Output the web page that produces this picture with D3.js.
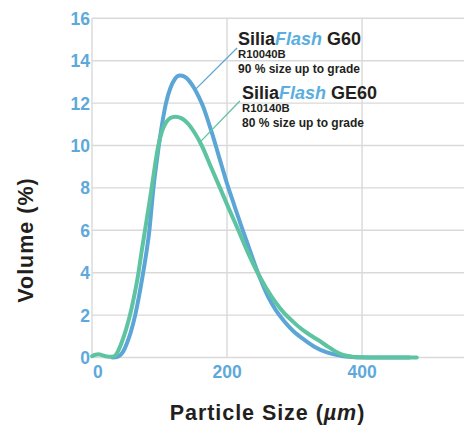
<!DOCTYPE html>
<html>
<head>
<meta charset="utf-8">
<script src="https://cdn.jsdelivr.net/npm/d3@7"></script>
<style>
  html, body { margin: 0; padding: 0; background: #ffffff; }
  svg text { font-family: "Liberation Sans", Arial, sans-serif; font-weight: bold; }
</style>
</head>
<body>
<div id="chart"></div>
<script>
// particle size (µm) / volume (%)
const g60Size = [30, 37, 42, 47, 52, 57, 64, 70, 76, 81, 85, 88, 91, 95, 99, 104, 109.6, 116, 123, 130, 137, 144, 151, 158, 165, 172, 179, 186, 193, 200, 210, 220, 230, 240, 250, 260, 272, 285, 298, 315, 330, 348, 365, 380, 400, 430, 470];
const g60Volume = [0, 0.02, 0.11, 0.33, 0.7, 1.15, 2.0, 2.95, 4.05, 5.05, 6.0, 7.0, 8.0, 9.05, 10.0, 11.05, 12.0, 12.7, 13.15, 13.3, 13.25, 13.05, 12.72, 12.3, 11.8, 11.15, 10.45, 9.7, 8.95, 8.2, 7.25, 6.3, 5.4, 4.5, 3.65, 2.92, 2.25, 1.7, 1.25, 0.82, 0.5, 0.24, 0.1, 0.03, 0, 0, 0];

const ge60Size = [0, 5, 10, 15, 20, 25, 30, 34, 39, 45, 50, 56.3, 62, 68.6, 73.5, 78.5, 83.5, 88.4, 93, 98.3, 104, 110, 116, 123, 133, 143, 152, 162.5, 176, 189.6, 203, 216.8, 230, 244, 258, 272, 285, 298, 312, 326, 340, 350, 360, 372, 385, 400, 420, 450, 481];
const ge60Volume = [0.06, 0.13, 0.15, 0.11, 0.06, 0.04, 0.04, 0.08, 0.33, 0.8, 1.28, 2.0, 2.82, 3.95, 5.0, 6.0, 7.0, 8.0, 9.0, 10.0, 10.7, 11.1, 11.3, 11.36, 11.28, 11.0, 10.6, 10.0, 9.0, 8.0, 7.0, 6.0, 5.02, 4.08, 3.28, 2.6, 2.08, 1.68, 1.3, 1.0, 0.72, 0.5, 0.3, 0.12, 0.04, 0.01, 0, 0, 0];

const xTicks = [0, 200, 400];
const yTicks = [0, 2, 4, 6, 8, 10, 12, 14, 16];

const W = 464, H = 426;
const tickBlue = "#5ea9da";
const lineBlue = "#5ba6d6";
const lineGreen = "#5ec3a0";
const gridGray = "#d9d9d9";
const ink = "#231f20";

const svg = d3.select("#chart").append("svg")
  .attr("width", W)
  .attr("height", H);

const x = d3.scaleLinear().domain([0, 551]).range([92, 464]);
const y = d3.scaleLinear().domain([0, 16]).range([357.5, 18.3]);

// grid
svg.append("g")
  .selectAll("line.h")
  .data(yTicks)
  .enter().append("line")
  .attr("x1", x(0)).attr("x2", W)
  .attr("y1", d => y(d)).attr("y2", d => y(d))
  .attr("stroke", gridGray).attr("stroke-width", 1.4);

svg.append("g")
  .selectAll("line.v")
  .data(xTicks)
  .enter().append("line")
  .attr("x1", d => x(d)).attr("x2", d => x(d))
  .attr("y1", y(16)).attr("y2", y(0))
  .attr("stroke", gridGray).attr("stroke-width", 1.4);

// tick labels
svg.append("g")
  .selectAll("text")
  .data(yTicks)
  .enter().append("text")
  .attr("x", 90)
  .attr("y", d => y(d) + 6.4)
  .attr("text-anchor", "end")
  .attr("fill", tickBlue)
  .style("font-size", "17.5px")
  .text(d => d);

svg.append("g")
  .selectAll("text")
  .data(xTicks)
  .enter().append("text")
  .attr("x", d => d === 0 ? x(d) + 1 : x(d))
  .attr("y", y(0) + 20.5)
  .attr("text-anchor", d => d === 0 ? "start" : "middle")
  .attr("fill", tickBlue)
  .style("font-size", "17.5px")
  .text(d => d);

// curves
const line = d3.line()
  .x(d => x(d[0]))
  .y(d => y(d[1]))
  .curve(d3.curveMonotoneX);

const series = [
  { size: g60Size, vol: g60Volume, color: lineBlue },
  { size: ge60Size, vol: ge60Volume, color: lineGreen }
];

series.forEach(s => {
  svg.append("path")
    .datum(s.size.map((v, i) => [v, s.vol[i]]))
    .attr("fill", "none")
    .attr("stroke", s.color)
    .attr("stroke-width", 4)
    .attr("stroke-linecap", "round")
    .attr("stroke-linejoin", "round")
    .attr("d", line);
});

// annotations
const notes = [
  { from: [154, 12.67], to: [214.8, 14.6], color: lineBlue, tx: 238, base: 45.3, name: " G60", code: "R10040B", grade: "90 % size up to grade" },
  { from: [160, 10.16], to: [219, 12.1], color: lineGreen, tx: 242, base: 99.3, name: " GE60", code: "R10140B", grade: "80 % size up to grade" }
];

notes.forEach(n => {
  svg.append("line")
    .attr("x1", x(n.from[0])).attr("y1", y(n.from[1]))
    .attr("x2", x(n.to[0])).attr("y2", y(n.to[1]))
    .attr("stroke", n.color).attr("stroke-width", 1.3);

  const t = svg.append("text")
    .attr("x", n.tx).attr("y", n.base)
    .attr("fill", ink)
    .style("font-size", "18px");
  t.append("tspan").text("Silia");
  t.append("tspan").attr("fill", "#5aaee0").style("font-style", "italic").text("Flash");
  t.append("tspan").text(n.name);

  svg.append("text")
    .attr("x", n.tx).attr("y", n.base + 13)
    .attr("fill", ink)
    .style("font-size", "11.3px")
    .text(n.code);

  svg.append("text")
    .attr("x", n.tx).attr("y", n.base + 27.5)
    .attr("fill", ink)
    .style("font-size", "12px")
    .text(n.grade);
});

// axis titles
svg.append("text")
  .attr("transform", "translate(33,240) rotate(-90)")
  .attr("text-anchor", "middle")
  .attr("fill", ink)
  .style("font-size", "21.5px")
  .style("letter-spacing", "1px")
  .text("Volume (%)");

const xt = svg.append("text")
  .attr("x", 267.5).attr("y", 420)
  .attr("text-anchor", "middle")
  .attr("fill", ink)
  .style("font-size", "21.5px")
  .style("letter-spacing", "0.95px");
xt.append("tspan").text("Particle Size (");
xt.append("tspan").style("font-style", "italic").text("µm");
xt.append("tspan").text(")");
</script>
</body>
</html>
